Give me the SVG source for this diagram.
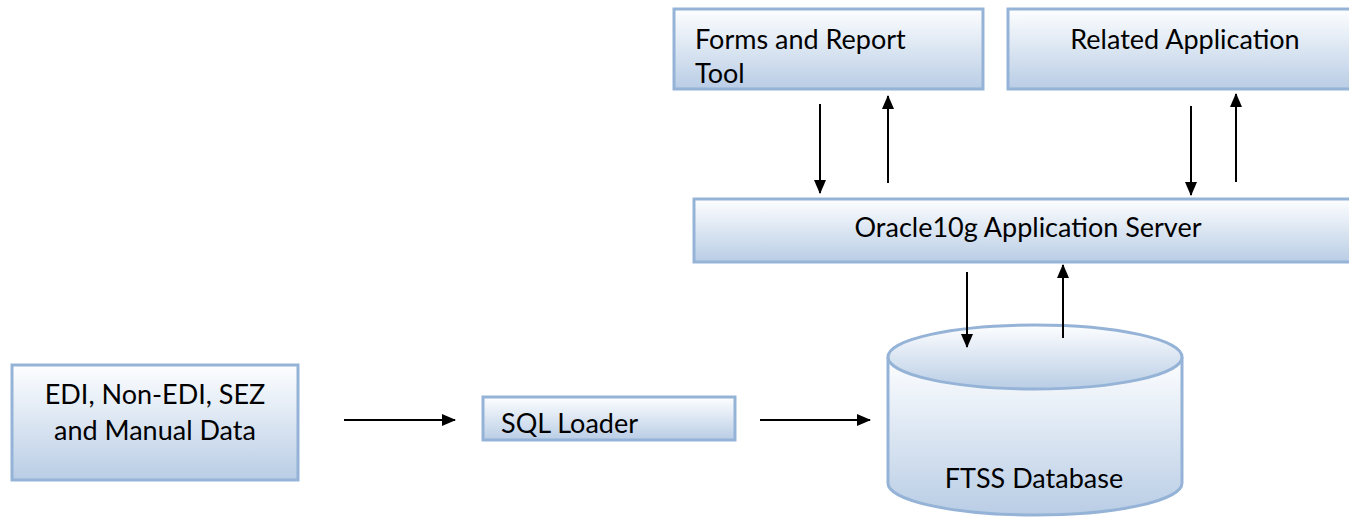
<svg xmlns="http://www.w3.org/2000/svg" width="1349" height="517" viewBox="0 0 1349 517">
<style>
.box{fill:url(#g);stroke:#95b3d7;stroke-width:3}
.t{font-family:Lato,"Open Sans","Liberation Sans",sans-serif;font-size:27px;fill:#000}
.c{stroke:#000;stroke-width:2;fill:none;marker-end:url(#ah)}
</style>
<defs>
<linearGradient id="g" x1="0" y1="0" x2="0" y2="1">
<stop offset="0" stop-color="#fdfeff"/>
<stop offset="1" stop-color="#b9cde5"/>
</linearGradient>
<marker id="ah" markerWidth="14" markerHeight="12" refX="13" refY="6" orient="auto" markerUnits="userSpaceOnUse" viewBox="0 0 14 12">
<path d="M0,0 L14,6 L0,12 z" fill="#000"/>
</marker>
</defs>
<rect width="1349" height="517" fill="#fff"/>
<g id="forms">
<rect class="box" x="674" y="9" width="309" height="80"/>
<text class="t" x="695" y="49">Forms and Report</text>
<text class="t" x="695" y="83">Tool</text>
</g>
<g id="related">
<rect class="box" x="1008" y="9" width="354" height="80"/>
<text class="t" x="1185" y="49" text-anchor="middle">Related Application</text>
</g>
<g id="oracle">
<rect class="box" x="694" y="199" width="668" height="63"/>
<text class="t" x="1028" y="237" text-anchor="middle">Oracle10g Application Server</text>
</g>
<g id="ftss">
<path class="box" d="M888,357 L888,483 A147,32 0 0 0 1182,483 L1182,357"/>
<ellipse cx="1035" cy="357" rx="147" ry="32" class="box"/>
<text class="t" x="1034" y="488" text-anchor="middle">FTSS Database</text>
</g>
<g id="edi">
<rect class="box" x="12" y="365" width="286" height="115"/>
<text class="t" x="155" y="404" text-anchor="middle">EDI, Non-EDI, SEZ</text>
<text class="t" x="155" y="440" text-anchor="middle">and Manual Data</text>
</g>
<g id="sqlloader">
<rect class="box" x="483" y="397" width="252" height="43"/>
<text class="t" x="501" y="433">SQL Loader</text>
</g>
<g id="connectors">
<line class="c" x1="344" y1="420" x2="455" y2="420"/>
<line class="c" x1="760" y1="420" x2="870" y2="420"/>
<line class="c" x1="820" y1="104" x2="820" y2="193"/>
<line class="c" x1="888" y1="183" x2="888" y2="96"/>
<line class="c" x1="1191" y1="106" x2="1191" y2="195"/>
<line class="c" x1="1236" y1="182" x2="1236" y2="94"/>
<line class="c" x1="967" y1="272" x2="967" y2="347"/>
<line class="c" x1="1063" y1="338" x2="1063" y2="265"/>
</g>
</svg>
